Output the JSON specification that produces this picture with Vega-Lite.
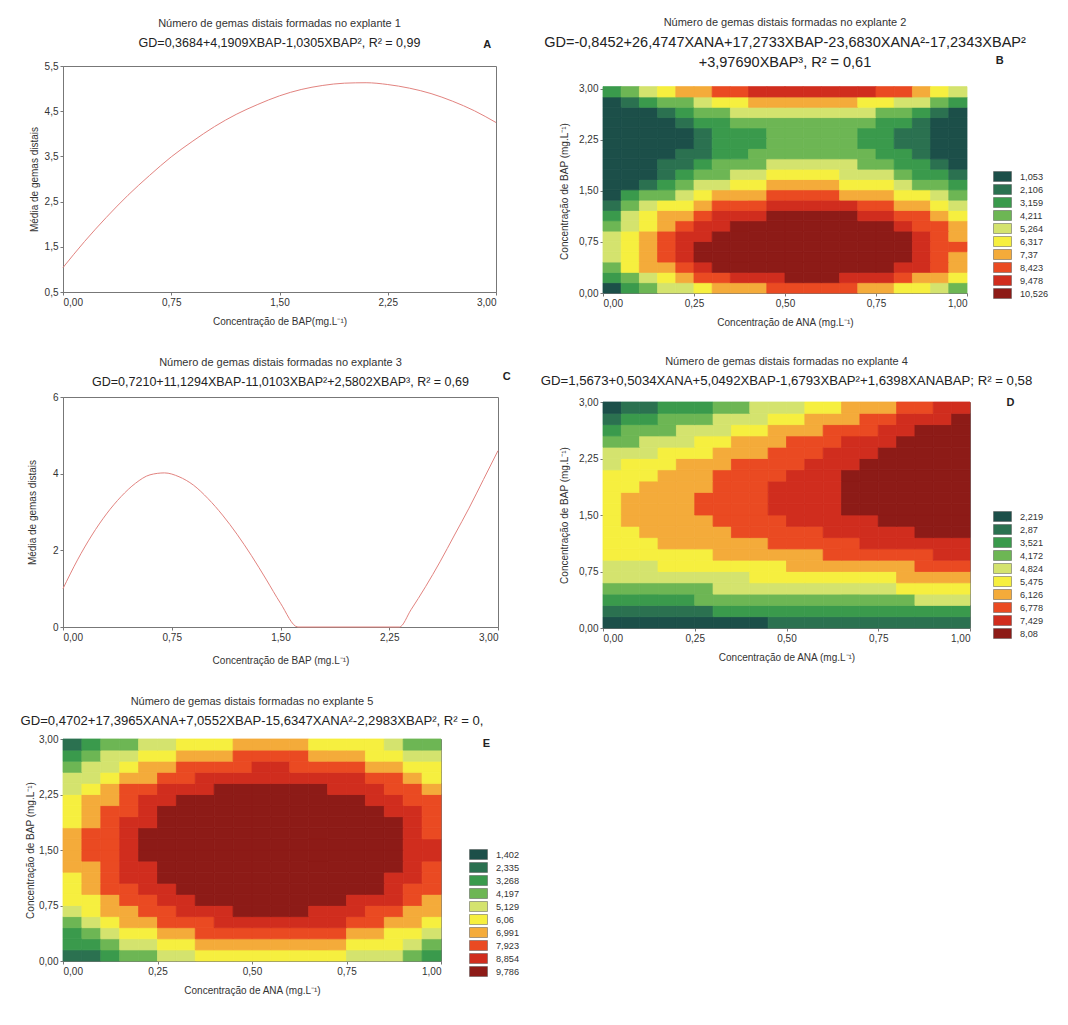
{
"$schema": "https://vega.github.io/schema/vega-lite/v6.json",
"background": "white",
"padding": {"left": 20, "top": 16, "right": 5, "bottom": 5},
"spacing": 20,
"resolve": {"scale": {"color": "independent"}, "legend": {"color": "independent"}},
"config": {
  "font": "Liberation Sans",
  "view": {"stroke": "#777", "strokeWidth": 1},
  "axis": {"labelFontSize": 10, "titleFontSize": 10, "titleFontWeight": "normal", "labelColor": "#333", "titleColor": "#333", "domainColor": "#777", "tickColor": "#777", "tickSize": 3, "grid": false, "labelPadding": 2, "titlePadding": 9},
  "title": {"fontSize": 11, "fontWeight": "normal", "color": "#333", "subtitleFontSize": 12.5, "subtitleColor": "#222", "subtitlePadding": 8, "offset": 12, "anchor": "middle", "frame": "group", "font": "Liberation Sans", "subtitleFont": "Liberation Sans"},
  "legend": {"symbolType": "M-1.8,-1H1.8V1H-1.8Z", "symbolSize": 100, "labelFontSize": 9.2, "labelColor": "#333", "rowPadding": 0, "padding": 0, "labelOffset": 12, "symbolStrokeColor": "#555", "symbolStrokeWidth": 0.5}
},
"datasets": {
"lineA": [{"x":0,"y":1.04},{"x":0.15,"y":1.62},{"x":0.3,"y":2.15},{"x":0.45,"y":2.64},{"x":0.6,"y":3.08},{"x":0.75,"y":3.49},{"x":0.9,"y":3.84},{"x":1.05,"y":4.16},{"x":1.2,"y":4.43},{"x":1.35,"y":4.65},{"x":1.5,"y":4.84},{"x":1.65,"y":4.98},{"x":1.8,"y":5.07},{"x":1.95,"y":5.12},{"x":2.1,"y":5.13},{"x":2.25,"y":5.09},{"x":2.4,"y":5.01},{"x":2.55,"y":4.89},{"x":2.7,"y":4.72},{"x":2.85,"y":4.51},{"x":3.0,"y":4.25}],
"lineC": [{"x":0,"y":1.0},{"x":0.1,"y":1.75},{"x":0.2,"y":2.4},{"x":0.3,"y":2.95},{"x":0.4,"y":3.4},{"x":0.5,"y":3.75},{"x":0.6,"y":3.97},{"x":0.7,"y":4.02},{"x":0.8,"y":3.92},{"x":0.9,"y":3.7},{"x":1.0,"y":3.35},{"x":1.1,"y":2.92},{"x":1.2,"y":2.42},{"x":1.3,"y":1.86},{"x":1.4,"y":1.25},{"x":1.5,"y":0.62},{"x":1.62,"y":0},{"x":2.32,"y":0},{"x":2.4,"y":0.45},{"x":2.5,"y":1.05},{"x":2.6,"y":1.7},{"x":2.7,"y":2.4},{"x":2.8,"y":3.1},{"x":2.9,"y":3.85},{"x":3.0,"y":4.6}],
"gridB": [
{"a":0.025,"b":0.075,"v":1},{"a":0.075,"b":0.075,"v":3},{"a":0.125,"b":0.075,"v":4},{"a":0.175,"b":0.075,"v":5},{"a":0.225,"b":0.075,"v":5},{"a":0.275,"b":0.075,"v":6},{"a":0.325,"b":0.075,"v":7},{"a":0.375,"b":0.075,"v":7},{"a":0.425,"b":0.075,"v":7},{"a":0.475,"b":0.075,"v":8},{"a":0.525,"b":0.075,"v":8},{"a":0.575,"b":0.075,"v":8},{"a":0.625,"b":0.075,"v":8},{"a":0.675,"b":0.075,"v":8},{"a":0.725,"b":0.075,"v":7},{"a":0.775,"b":0.075,"v":7},{"a":0.825,"b":0.075,"v":6},{"a":0.875,"b":0.075,"v":6},{"a":0.925,"b":0.075,"v":5},{"a":0.975,"b":0.075,"v":4},
{"a":0.025,"b":0.225,"v":3},{"a":0.075,"b":0.225,"v":4},{"a":0.125,"b":0.225,"v":5},{"a":0.175,"b":0.225,"v":6},{"a":0.225,"b":0.225,"v":7},{"a":0.275,"b":0.225,"v":8},{"a":0.325,"b":0.225,"v":8},{"a":0.375,"b":0.225,"v":9},{"a":0.425,"b":0.225,"v":9},{"a":0.475,"b":0.225,"v":9},{"a":0.525,"b":0.225,"v":10},{"a":0.575,"b":0.225,"v":10},{"a":0.625,"b":0.225,"v":10},{"a":0.675,"b":0.225,"v":9},{"a":0.725,"b":0.225,"v":9},{"a":0.775,"b":0.225,"v":9},{"a":0.825,"b":0.225,"v":8},{"a":0.875,"b":0.225,"v":7},{"a":0.925,"b":0.225,"v":7},{"a":0.975,"b":0.225,"v":6},
{"a":0.025,"b":0.375,"v":4},{"a":0.075,"b":0.375,"v":6},{"a":0.125,"b":0.375,"v":7},{"a":0.175,"b":0.375,"v":7},{"a":0.225,"b":0.375,"v":8},{"a":0.275,"b":0.375,"v":9},{"a":0.325,"b":0.375,"v":10},{"a":0.375,"b":0.375,"v":10},{"a":0.425,"b":0.375,"v":10},{"a":0.475,"b":0.375,"v":10},{"a":0.525,"b":0.375,"v":10},{"a":0.575,"b":0.375,"v":10},{"a":0.625,"b":0.375,"v":10},{"a":0.675,"b":0.375,"v":10},{"a":0.725,"b":0.375,"v":10},{"a":0.775,"b":0.375,"v":10},{"a":0.825,"b":0.375,"v":9},{"a":0.875,"b":0.375,"v":9},{"a":0.925,"b":0.375,"v":8},{"a":0.975,"b":0.375,"v":7},
{"a":0.025,"b":0.525,"v":5},{"a":0.075,"b":0.525,"v":6},{"a":0.125,"b":0.525,"v":7},{"a":0.175,"b":0.525,"v":8},{"a":0.225,"b":0.525,"v":9},{"a":0.275,"b":0.525,"v":10},{"a":0.325,"b":0.525,"v":10},{"a":0.375,"b":0.525,"v":10},{"a":0.425,"b":0.525,"v":10},{"a":0.475,"b":0.525,"v":10},{"a":0.525,"b":0.525,"v":10},{"a":0.575,"b":0.525,"v":10},{"a":0.625,"b":0.525,"v":10},{"a":0.675,"b":0.525,"v":10},{"a":0.725,"b":0.525,"v":10},{"a":0.775,"b":0.525,"v":10},{"a":0.825,"b":0.525,"v":10},{"a":0.875,"b":0.525,"v":9},{"a":0.925,"b":0.525,"v":8},{"a":0.975,"b":0.525,"v":7},
{"a":0.025,"b":0.675,"v":5},{"a":0.075,"b":0.675,"v":6},{"a":0.125,"b":0.675,"v":7},{"a":0.175,"b":0.675,"v":8},{"a":0.225,"b":0.675,"v":9},{"a":0.275,"b":0.675,"v":10},{"a":0.325,"b":0.675,"v":10},{"a":0.375,"b":0.675,"v":10},{"a":0.425,"b":0.675,"v":10},{"a":0.475,"b":0.675,"v":10},{"a":0.525,"b":0.675,"v":10},{"a":0.575,"b":0.675,"v":10},{"a":0.625,"b":0.675,"v":10},{"a":0.675,"b":0.675,"v":10},{"a":0.725,"b":0.675,"v":10},{"a":0.775,"b":0.675,"v":10},{"a":0.825,"b":0.675,"v":10},{"a":0.875,"b":0.675,"v":9},{"a":0.925,"b":0.675,"v":8},{"a":0.975,"b":0.675,"v":8},
{"a":0.025,"b":0.825,"v":5},{"a":0.075,"b":0.825,"v":6},{"a":0.125,"b":0.825,"v":7},{"a":0.175,"b":0.825,"v":8},{"a":0.225,"b":0.825,"v":9},{"a":0.275,"b":0.825,"v":9},{"a":0.325,"b":0.825,"v":10},{"a":0.375,"b":0.825,"v":10},{"a":0.425,"b":0.825,"v":10},{"a":0.475,"b":0.825,"v":10},{"a":0.525,"b":0.825,"v":10},{"a":0.575,"b":0.825,"v":10},{"a":0.625,"b":0.825,"v":10},{"a":0.675,"b":0.825,"v":10},{"a":0.725,"b":0.825,"v":10},{"a":0.775,"b":0.825,"v":10},{"a":0.825,"b":0.825,"v":10},{"a":0.875,"b":0.825,"v":9},{"a":0.925,"b":0.825,"v":8},{"a":0.975,"b":0.825,"v":7},
{"a":0.025,"b":0.975,"v":4},{"a":0.075,"b":0.975,"v":5},{"a":0.125,"b":0.975,"v":6},{"a":0.175,"b":0.975,"v":7},{"a":0.225,"b":0.975,"v":8},{"a":0.275,"b":0.975,"v":9},{"a":0.325,"b":0.975,"v":9},{"a":0.375,"b":0.975,"v":10},{"a":0.425,"b":0.975,"v":10},{"a":0.475,"b":0.975,"v":10},{"a":0.525,"b":0.975,"v":10},{"a":0.575,"b":0.975,"v":10},{"a":0.625,"b":0.975,"v":10},{"a":0.675,"b":0.975,"v":10},{"a":0.725,"b":0.975,"v":10},{"a":0.775,"b":0.975,"v":10},{"a":0.825,"b":0.975,"v":9},{"a":0.875,"b":0.975,"v":8},{"a":0.925,"b":0.975,"v":8},{"a":0.975,"b":0.975,"v":7},
{"a":0.025,"b":1.125,"v":3},{"a":0.075,"b":1.125,"v":5},{"a":0.125,"b":1.125,"v":6},{"a":0.175,"b":1.125,"v":7},{"a":0.225,"b":1.125,"v":7},{"a":0.275,"b":1.125,"v":8},{"a":0.325,"b":1.125,"v":9},{"a":0.375,"b":1.125,"v":9},{"a":0.425,"b":1.125,"v":9},{"a":0.475,"b":1.125,"v":10},{"a":0.525,"b":1.125,"v":10},{"a":0.575,"b":1.125,"v":10},{"a":0.625,"b":1.125,"v":10},{"a":0.675,"b":1.125,"v":10},{"a":0.725,"b":1.125,"v":9},{"a":0.775,"b":1.125,"v":9},{"a":0.825,"b":1.125,"v":8},{"a":0.875,"b":1.125,"v":8},{"a":0.925,"b":1.125,"v":7},{"a":0.975,"b":1.125,"v":6},
{"a":0.025,"b":1.275,"v":2},{"a":0.075,"b":1.275,"v":4},{"a":0.125,"b":1.275,"v":5},{"a":0.175,"b":1.275,"v":6},{"a":0.225,"b":1.275,"v":6},{"a":0.275,"b":1.275,"v":7},{"a":0.325,"b":1.275,"v":8},{"a":0.375,"b":1.275,"v":8},{"a":0.425,"b":1.275,"v":8},{"a":0.475,"b":1.275,"v":9},{"a":0.525,"b":1.275,"v":9},{"a":0.575,"b":1.275,"v":9},{"a":0.625,"b":1.275,"v":9},{"a":0.675,"b":1.275,"v":9},{"a":0.725,"b":1.275,"v":8},{"a":0.775,"b":1.275,"v":8},{"a":0.825,"b":1.275,"v":7},{"a":0.875,"b":1.275,"v":7},{"a":0.925,"b":1.275,"v":6},{"a":0.975,"b":1.275,"v":5},
{"a":0.025,"b":1.425,"v":1},{"a":0.075,"b":1.425,"v":3},{"a":0.125,"b":1.425,"v":4},{"a":0.175,"b":1.425,"v":4},{"a":0.225,"b":1.425,"v":5},{"a":0.275,"b":1.425,"v":6},{"a":0.325,"b":1.425,"v":7},{"a":0.375,"b":1.425,"v":7},{"a":0.425,"b":1.425,"v":7},{"a":0.475,"b":1.425,"v":8},{"a":0.525,"b":1.425,"v":8},{"a":0.575,"b":1.425,"v":8},{"a":0.625,"b":1.425,"v":8},{"a":0.675,"b":1.425,"v":7},{"a":0.725,"b":1.425,"v":7},{"a":0.775,"b":1.425,"v":7},{"a":0.825,"b":1.425,"v":6},{"a":0.875,"b":1.425,"v":6},{"a":0.925,"b":1.425,"v":5},{"a":0.975,"b":1.425,"v":4},
{"a":0.025,"b":1.575,"v":1},{"a":0.075,"b":1.575,"v":1},{"a":0.125,"b":1.575,"v":2},{"a":0.175,"b":1.575,"v":3},{"a":0.225,"b":1.575,"v":4},{"a":0.275,"b":1.575,"v":5},{"a":0.325,"b":1.575,"v":5},{"a":0.375,"b":1.575,"v":6},{"a":0.425,"b":1.575,"v":6},{"a":0.475,"b":1.575,"v":7},{"a":0.525,"b":1.575,"v":7},{"a":0.575,"b":1.575,"v":7},{"a":0.625,"b":1.575,"v":7},{"a":0.675,"b":1.575,"v":6},{"a":0.725,"b":1.575,"v":6},{"a":0.775,"b":1.575,"v":6},{"a":0.825,"b":1.575,"v":5},{"a":0.875,"b":1.575,"v":4},{"a":0.925,"b":1.575,"v":4},{"a":0.975,"b":1.575,"v":3},
{"a":0.025,"b":1.725,"v":1},{"a":0.075,"b":1.725,"v":1},{"a":0.125,"b":1.725,"v":1},{"a":0.175,"b":1.725,"v":2},{"a":0.225,"b":1.725,"v":3},{"a":0.275,"b":1.725,"v":4},{"a":0.325,"b":1.725,"v":4},{"a":0.375,"b":1.725,"v":5},{"a":0.425,"b":1.725,"v":5},{"a":0.475,"b":1.725,"v":6},{"a":0.525,"b":1.725,"v":6},{"a":0.575,"b":1.725,"v":6},{"a":0.625,"b":1.725,"v":6},{"a":0.675,"b":1.725,"v":5},{"a":0.725,"b":1.725,"v":5},{"a":0.775,"b":1.725,"v":5},{"a":0.825,"b":1.725,"v":4},{"a":0.875,"b":1.725,"v":3},{"a":0.925,"b":1.725,"v":3},{"a":0.975,"b":1.725,"v":2},
{"a":0.025,"b":1.875,"v":1},{"a":0.075,"b":1.875,"v":1},{"a":0.125,"b":1.875,"v":1},{"a":0.175,"b":1.875,"v":2},{"a":0.225,"b":1.875,"v":2},{"a":0.275,"b":1.875,"v":3},{"a":0.325,"b":1.875,"v":4},{"a":0.375,"b":1.875,"v":4},{"a":0.425,"b":1.875,"v":4},{"a":0.475,"b":1.875,"v":5},{"a":0.525,"b":1.875,"v":5},{"a":0.575,"b":1.875,"v":5},{"a":0.625,"b":1.875,"v":5},{"a":0.675,"b":1.875,"v":5},{"a":0.725,"b":1.875,"v":4},{"a":0.775,"b":1.875,"v":4},{"a":0.825,"b":1.875,"v":3},{"a":0.875,"b":1.875,"v":3},{"a":0.925,"b":1.875,"v":2},{"a":0.975,"b":1.875,"v":1},
{"a":0.025,"b":2.025,"v":1},{"a":0.075,"b":2.025,"v":1},{"a":0.125,"b":2.025,"v":1},{"a":0.175,"b":2.025,"v":1},{"a":0.225,"b":2.025,"v":2},{"a":0.275,"b":2.025,"v":2},{"a":0.325,"b":2.025,"v":3},{"a":0.375,"b":2.025,"v":3},{"a":0.425,"b":2.025,"v":4},{"a":0.475,"b":2.025,"v":4},{"a":0.525,"b":2.025,"v":4},{"a":0.575,"b":2.025,"v":4},{"a":0.625,"b":2.025,"v":4},{"a":0.675,"b":2.025,"v":4},{"a":0.725,"b":2.025,"v":4},{"a":0.775,"b":2.025,"v":3},{"a":0.825,"b":2.025,"v":3},{"a":0.875,"b":2.025,"v":2},{"a":0.925,"b":2.025,"v":1},{"a":0.975,"b":2.025,"v":1},
{"a":0.025,"b":2.175,"v":1},{"a":0.075,"b":2.175,"v":1},{"a":0.125,"b":2.175,"v":1},{"a":0.175,"b":2.175,"v":1},{"a":0.225,"b":2.175,"v":1},{"a":0.275,"b":2.175,"v":2},{"a":0.325,"b":2.175,"v":3},{"a":0.375,"b":2.175,"v":3},{"a":0.425,"b":2.175,"v":3},{"a":0.475,"b":2.175,"v":4},{"a":0.525,"b":2.175,"v":4},{"a":0.575,"b":2.175,"v":4},{"a":0.625,"b":2.175,"v":4},{"a":0.675,"b":2.175,"v":4},{"a":0.725,"b":2.175,"v":3},{"a":0.775,"b":2.175,"v":3},{"a":0.825,"b":2.175,"v":2},{"a":0.875,"b":2.175,"v":2},{"a":0.925,"b":2.175,"v":1},{"a":0.975,"b":2.175,"v":1},
{"a":0.025,"b":2.325,"v":1},{"a":0.075,"b":2.325,"v":1},{"a":0.125,"b":2.325,"v":1},{"a":0.175,"b":2.325,"v":1},{"a":0.225,"b":2.325,"v":1},{"a":0.275,"b":2.325,"v":2},{"a":0.325,"b":2.325,"v":3},{"a":0.375,"b":2.325,"v":3},{"a":0.425,"b":2.325,"v":3},{"a":0.475,"b":2.325,"v":4},{"a":0.525,"b":2.325,"v":4},{"a":0.575,"b":2.325,"v":4},{"a":0.625,"b":2.325,"v":4},{"a":0.675,"b":2.325,"v":4},{"a":0.725,"b":2.325,"v":3},{"a":0.775,"b":2.325,"v":3},{"a":0.825,"b":2.325,"v":2},{"a":0.875,"b":2.325,"v":2},{"a":0.925,"b":2.325,"v":1},{"a":0.975,"b":2.325,"v":1},
{"a":0.025,"b":2.475,"v":1},{"a":0.075,"b":2.475,"v":1},{"a":0.125,"b":2.475,"v":1},{"a":0.175,"b":2.475,"v":1},{"a":0.225,"b":2.475,"v":2},{"a":0.275,"b":2.475,"v":3},{"a":0.325,"b":2.475,"v":3},{"a":0.375,"b":2.475,"v":4},{"a":0.425,"b":2.475,"v":4},{"a":0.475,"b":2.475,"v":4},{"a":0.525,"b":2.475,"v":4},{"a":0.575,"b":2.475,"v":4},{"a":0.625,"b":2.475,"v":4},{"a":0.675,"b":2.475,"v":4},{"a":0.725,"b":2.475,"v":4},{"a":0.775,"b":2.475,"v":3},{"a":0.825,"b":2.475,"v":3},{"a":0.875,"b":2.475,"v":2},{"a":0.925,"b":2.475,"v":1},{"a":0.975,"b":2.475,"v":1},
{"a":0.025,"b":2.625,"v":1},{"a":0.075,"b":2.625,"v":1},{"a":0.125,"b":2.625,"v":1},{"a":0.175,"b":2.625,"v":2},{"a":0.225,"b":2.625,"v":3},{"a":0.275,"b":2.625,"v":4},{"a":0.325,"b":2.625,"v":4},{"a":0.375,"b":2.625,"v":5},{"a":0.425,"b":2.625,"v":5},{"a":0.475,"b":2.625,"v":5},{"a":0.525,"b":2.625,"v":5},{"a":0.575,"b":2.625,"v":5},{"a":0.625,"b":2.625,"v":5},{"a":0.675,"b":2.625,"v":5},{"a":0.725,"b":2.625,"v":5},{"a":0.775,"b":2.625,"v":4},{"a":0.825,"b":2.625,"v":4},{"a":0.875,"b":2.625,"v":3},{"a":0.925,"b":2.625,"v":2},{"a":0.975,"b":2.625,"v":1},
{"a":0.025,"b":2.775,"v":1},{"a":0.075,"b":2.775,"v":2},{"a":0.125,"b":2.775,"v":3},{"a":0.175,"b":2.775,"v":4},{"a":0.225,"b":2.775,"v":4},{"a":0.275,"b":2.775,"v":5},{"a":0.325,"b":2.775,"v":6},{"a":0.375,"b":2.775,"v":6},{"a":0.425,"b":2.775,"v":7},{"a":0.475,"b":2.775,"v":7},{"a":0.525,"b":2.775,"v":7},{"a":0.575,"b":2.775,"v":7},{"a":0.625,"b":2.775,"v":7},{"a":0.675,"b":2.775,"v":7},{"a":0.725,"b":2.775,"v":6},{"a":0.775,"b":2.775,"v":6},{"a":0.825,"b":2.775,"v":5},{"a":0.875,"b":2.775,"v":5},{"a":0.925,"b":2.775,"v":4},{"a":0.975,"b":2.775,"v":3},
{"a":0.025,"b":2.925,"v":3},{"a":0.075,"b":2.925,"v":4},{"a":0.125,"b":2.925,"v":5},{"a":0.175,"b":2.925,"v":6},{"a":0.225,"b":2.925,"v":7},{"a":0.275,"b":2.925,"v":7},{"a":0.325,"b":2.925,"v":8},{"a":0.375,"b":2.925,"v":8},{"a":0.425,"b":2.925,"v":9},{"a":0.475,"b":2.925,"v":9},{"a":0.525,"b":2.925,"v":9},{"a":0.575,"b":2.925,"v":9},{"a":0.625,"b":2.925,"v":9},{"a":0.675,"b":2.925,"v":9},{"a":0.725,"b":2.925,"v":9},{"a":0.775,"b":2.925,"v":8},{"a":0.825,"b":2.925,"v":8},{"a":0.875,"b":2.925,"v":7},{"a":0.925,"b":2.925,"v":6},{"a":0.975,"b":2.925,"v":5}
],
"gridD": [
{"a":0.025,"b":0.075,"v":1},{"a":0.075,"b":0.075,"v":1},{"a":0.125,"b":0.075,"v":1},{"a":0.175,"b":0.075,"v":1},{"a":0.225,"b":0.075,"v":1},{"a":0.275,"b":0.075,"v":1},{"a":0.325,"b":0.075,"v":1},{"a":0.375,"b":0.075,"v":1},{"a":0.425,"b":0.075,"v":1},{"a":0.475,"b":0.075,"v":2},{"a":0.525,"b":0.075,"v":2},{"a":0.575,"b":0.075,"v":2},{"a":0.625,"b":0.075,"v":2},{"a":0.675,"b":0.075,"v":2},{"a":0.725,"b":0.075,"v":2},{"a":0.775,"b":0.075,"v":2},{"a":0.825,"b":0.075,"v":2},{"a":0.875,"b":0.075,"v":2},{"a":0.925,"b":0.075,"v":2},{"a":0.975,"b":0.075,"v":2},
{"a":0.025,"b":0.225,"v":2},{"a":0.075,"b":0.225,"v":2},{"a":0.125,"b":0.225,"v":2},{"a":0.175,"b":0.225,"v":2},{"a":0.225,"b":0.225,"v":2},{"a":0.275,"b":0.225,"v":2},{"a":0.325,"b":0.225,"v":3},{"a":0.375,"b":0.225,"v":3},{"a":0.425,"b":0.225,"v":3},{"a":0.475,"b":0.225,"v":3},{"a":0.525,"b":0.225,"v":3},{"a":0.575,"b":0.225,"v":3},{"a":0.625,"b":0.225,"v":3},{"a":0.675,"b":0.225,"v":3},{"a":0.725,"b":0.225,"v":3},{"a":0.775,"b":0.225,"v":3},{"a":0.825,"b":0.225,"v":3},{"a":0.875,"b":0.225,"v":3},{"a":0.925,"b":0.225,"v":3},{"a":0.975,"b":0.225,"v":3},
{"a":0.025,"b":0.375,"v":3},{"a":0.075,"b":0.375,"v":3},{"a":0.125,"b":0.375,"v":3},{"a":0.175,"b":0.375,"v":3},{"a":0.225,"b":0.375,"v":3},{"a":0.275,"b":0.375,"v":4},{"a":0.325,"b":0.375,"v":4},{"a":0.375,"b":0.375,"v":4},{"a":0.425,"b":0.375,"v":4},{"a":0.475,"b":0.375,"v":4},{"a":0.525,"b":0.375,"v":4},{"a":0.575,"b":0.375,"v":4},{"a":0.625,"b":0.375,"v":4},{"a":0.675,"b":0.375,"v":4},{"a":0.725,"b":0.375,"v":4},{"a":0.775,"b":0.375,"v":4},{"a":0.825,"b":0.375,"v":4},{"a":0.875,"b":0.375,"v":5},{"a":0.925,"b":0.375,"v":5},{"a":0.975,"b":0.375,"v":5},
{"a":0.025,"b":0.525,"v":4},{"a":0.075,"b":0.525,"v":4},{"a":0.125,"b":0.525,"v":4},{"a":0.175,"b":0.525,"v":4},{"a":0.225,"b":0.525,"v":4},{"a":0.275,"b":0.525,"v":4},{"a":0.325,"b":0.525,"v":5},{"a":0.375,"b":0.525,"v":5},{"a":0.425,"b":0.525,"v":5},{"a":0.475,"b":0.525,"v":5},{"a":0.525,"b":0.525,"v":5},{"a":0.575,"b":0.525,"v":5},{"a":0.625,"b":0.525,"v":5},{"a":0.675,"b":0.525,"v":5},{"a":0.725,"b":0.525,"v":5},{"a":0.775,"b":0.525,"v":5},{"a":0.825,"b":0.525,"v":6},{"a":0.875,"b":0.525,"v":6},{"a":0.925,"b":0.525,"v":6},{"a":0.975,"b":0.525,"v":6},
{"a":0.025,"b":0.675,"v":5},{"a":0.075,"b":0.675,"v":5},{"a":0.125,"b":0.675,"v":5},{"a":0.175,"b":0.675,"v":5},{"a":0.225,"b":0.675,"v":5},{"a":0.275,"b":0.675,"v":5},{"a":0.325,"b":0.675,"v":5},{"a":0.375,"b":0.675,"v":5},{"a":0.425,"b":0.675,"v":6},{"a":0.475,"b":0.675,"v":6},{"a":0.525,"b":0.675,"v":6},{"a":0.575,"b":0.675,"v":6},{"a":0.625,"b":0.675,"v":6},{"a":0.675,"b":0.675,"v":6},{"a":0.725,"b":0.675,"v":6},{"a":0.775,"b":0.675,"v":6},{"a":0.825,"b":0.675,"v":7},{"a":0.875,"b":0.675,"v":7},{"a":0.925,"b":0.675,"v":7},{"a":0.975,"b":0.675,"v":7},
{"a":0.025,"b":0.825,"v":5},{"a":0.075,"b":0.825,"v":5},{"a":0.125,"b":0.825,"v":5},{"a":0.175,"b":0.825,"v":6},{"a":0.225,"b":0.825,"v":6},{"a":0.275,"b":0.825,"v":6},{"a":0.325,"b":0.825,"v":6},{"a":0.375,"b":0.825,"v":6},{"a":0.425,"b":0.825,"v":6},{"a":0.475,"b":0.825,"v":6},{"a":0.525,"b":0.825,"v":7},{"a":0.575,"b":0.825,"v":7},{"a":0.625,"b":0.825,"v":7},{"a":0.675,"b":0.825,"v":7},{"a":0.725,"b":0.825,"v":7},{"a":0.775,"b":0.825,"v":7},{"a":0.825,"b":0.825,"v":7},{"a":0.875,"b":0.825,"v":8},{"a":0.925,"b":0.825,"v":8},{"a":0.975,"b":0.825,"v":8},
{"a":0.025,"b":0.975,"v":6},{"a":0.075,"b":0.975,"v":6},{"a":0.125,"b":0.975,"v":6},{"a":0.175,"b":0.975,"v":6},{"a":0.225,"b":0.975,"v":6},{"a":0.275,"b":0.975,"v":6},{"a":0.325,"b":0.975,"v":7},{"a":0.375,"b":0.975,"v":7},{"a":0.425,"b":0.975,"v":7},{"a":0.475,"b":0.975,"v":7},{"a":0.525,"b":0.975,"v":7},{"a":0.575,"b":0.975,"v":7},{"a":0.625,"b":0.975,"v":8},{"a":0.675,"b":0.975,"v":8},{"a":0.725,"b":0.975,"v":8},{"a":0.775,"b":0.975,"v":8},{"a":0.825,"b":0.975,"v":8},{"a":0.875,"b":0.975,"v":8},{"a":0.925,"b":0.975,"v":9},{"a":0.975,"b":0.975,"v":9},
{"a":0.025,"b":1.125,"v":6},{"a":0.075,"b":1.125,"v":6},{"a":0.125,"b":1.125,"v":6},{"a":0.175,"b":1.125,"v":7},{"a":0.225,"b":1.125,"v":7},{"a":0.275,"b":1.125,"v":7},{"a":0.325,"b":1.125,"v":7},{"a":0.375,"b":1.125,"v":7},{"a":0.425,"b":1.125,"v":7},{"a":0.475,"b":1.125,"v":8},{"a":0.525,"b":1.125,"v":8},{"a":0.575,"b":1.125,"v":8},{"a":0.625,"b":1.125,"v":8},{"a":0.675,"b":1.125,"v":8},{"a":0.725,"b":1.125,"v":9},{"a":0.775,"b":1.125,"v":9},{"a":0.825,"b":1.125,"v":9},{"a":0.875,"b":1.125,"v":9},{"a":0.925,"b":1.125,"v":9},{"a":0.975,"b":1.125,"v":9},
{"a":0.025,"b":1.275,"v":6},{"a":0.075,"b":1.275,"v":6},{"a":0.125,"b":1.275,"v":7},{"a":0.175,"b":1.275,"v":7},{"a":0.225,"b":1.275,"v":7},{"a":0.275,"b":1.275,"v":7},{"a":0.325,"b":1.275,"v":7},{"a":0.375,"b":1.275,"v":8},{"a":0.425,"b":1.275,"v":8},{"a":0.475,"b":1.275,"v":8},{"a":0.525,"b":1.275,"v":8},{"a":0.575,"b":1.275,"v":8},{"a":0.625,"b":1.275,"v":9},{"a":0.675,"b":1.275,"v":9},{"a":0.725,"b":1.275,"v":9},{"a":0.775,"b":1.275,"v":9},{"a":0.825,"b":1.275,"v":9},{"a":0.875,"b":1.275,"v":10},{"a":0.925,"b":1.275,"v":10},{"a":0.975,"b":1.275,"v":10},
{"a":0.025,"b":1.425,"v":6},{"a":0.075,"b":1.425,"v":7},{"a":0.125,"b":1.425,"v":7},{"a":0.175,"b":1.425,"v":7},{"a":0.225,"b":1.425,"v":7},{"a":0.275,"b":1.425,"v":7},{"a":0.325,"b":1.425,"v":8},{"a":0.375,"b":1.425,"v":8},{"a":0.425,"b":1.425,"v":8},{"a":0.475,"b":1.425,"v":8},{"a":0.525,"b":1.425,"v":9},{"a":0.575,"b":1.425,"v":9},{"a":0.625,"b":1.425,"v":9},{"a":0.675,"b":1.425,"v":9},{"a":0.725,"b":1.425,"v":9},{"a":0.775,"b":1.425,"v":10},{"a":0.825,"b":1.425,"v":10},{"a":0.875,"b":1.425,"v":10},{"a":0.925,"b":1.425,"v":10},{"a":0.975,"b":1.425,"v":10},
{"a":0.025,"b":1.575,"v":6},{"a":0.075,"b":1.575,"v":7},{"a":0.125,"b":1.575,"v":7},{"a":0.175,"b":1.575,"v":7},{"a":0.225,"b":1.575,"v":7},{"a":0.275,"b":1.575,"v":8},{"a":0.325,"b":1.575,"v":8},{"a":0.375,"b":1.575,"v":8},{"a":0.425,"b":1.575,"v":8},{"a":0.475,"b":1.575,"v":9},{"a":0.525,"b":1.575,"v":9},{"a":0.575,"b":1.575,"v":9},{"a":0.625,"b":1.575,"v":9},{"a":0.675,"b":1.575,"v":10},{"a":0.725,"b":1.575,"v":10},{"a":0.775,"b":1.575,"v":10},{"a":0.825,"b":1.575,"v":10},{"a":0.875,"b":1.575,"v":10},{"a":0.925,"b":1.575,"v":10},{"a":0.975,"b":1.575,"v":10},
{"a":0.025,"b":1.725,"v":6},{"a":0.075,"b":1.725,"v":7},{"a":0.125,"b":1.725,"v":7},{"a":0.175,"b":1.725,"v":7},{"a":0.225,"b":1.725,"v":7},{"a":0.275,"b":1.725,"v":8},{"a":0.325,"b":1.725,"v":8},{"a":0.375,"b":1.725,"v":8},{"a":0.425,"b":1.725,"v":8},{"a":0.475,"b":1.725,"v":9},{"a":0.525,"b":1.725,"v":9},{"a":0.575,"b":1.725,"v":9},{"a":0.625,"b":1.725,"v":9},{"a":0.675,"b":1.725,"v":10},{"a":0.725,"b":1.725,"v":10},{"a":0.775,"b":1.725,"v":10},{"a":0.825,"b":1.725,"v":10},{"a":0.875,"b":1.725,"v":10},{"a":0.925,"b":1.725,"v":10},{"a":0.975,"b":1.725,"v":10},
{"a":0.025,"b":1.875,"v":6},{"a":0.075,"b":1.875,"v":6},{"a":0.125,"b":1.875,"v":7},{"a":0.175,"b":1.875,"v":7},{"a":0.225,"b":1.875,"v":7},{"a":0.275,"b":1.875,"v":7},{"a":0.325,"b":1.875,"v":8},{"a":0.375,"b":1.875,"v":8},{"a":0.425,"b":1.875,"v":8},{"a":0.475,"b":1.875,"v":9},{"a":0.525,"b":1.875,"v":9},{"a":0.575,"b":1.875,"v":9},{"a":0.625,"b":1.875,"v":9},{"a":0.675,"b":1.875,"v":10},{"a":0.725,"b":1.875,"v":10},{"a":0.775,"b":1.875,"v":10},{"a":0.825,"b":1.875,"v":10},{"a":0.875,"b":1.875,"v":10},{"a":0.925,"b":1.875,"v":10},{"a":0.975,"b":1.875,"v":10},
{"a":0.025,"b":2.025,"v":6},{"a":0.075,"b":2.025,"v":6},{"a":0.125,"b":2.025,"v":6},{"a":0.175,"b":2.025,"v":7},{"a":0.225,"b":2.025,"v":7},{"a":0.275,"b":2.025,"v":7},{"a":0.325,"b":2.025,"v":8},{"a":0.375,"b":2.025,"v":8},{"a":0.425,"b":2.025,"v":8},{"a":0.475,"b":2.025,"v":8},{"a":0.525,"b":2.025,"v":9},{"a":0.575,"b":2.025,"v":9},{"a":0.625,"b":2.025,"v":9},{"a":0.675,"b":2.025,"v":10},{"a":0.725,"b":2.025,"v":10},{"a":0.775,"b":2.025,"v":10},{"a":0.825,"b":2.025,"v":10},{"a":0.875,"b":2.025,"v":10},{"a":0.925,"b":2.025,"v":10},{"a":0.975,"b":2.025,"v":10},
{"a":0.025,"b":2.175,"v":5},{"a":0.075,"b":2.175,"v":6},{"a":0.125,"b":2.175,"v":6},{"a":0.175,"b":2.175,"v":6},{"a":0.225,"b":2.175,"v":7},{"a":0.275,"b":2.175,"v":7},{"a":0.325,"b":2.175,"v":7},{"a":0.375,"b":2.175,"v":8},{"a":0.425,"b":2.175,"v":8},{"a":0.475,"b":2.175,"v":8},{"a":0.525,"b":2.175,"v":8},{"a":0.575,"b":2.175,"v":9},{"a":0.625,"b":2.175,"v":9},{"a":0.675,"b":2.175,"v":9},{"a":0.725,"b":2.175,"v":10},{"a":0.775,"b":2.175,"v":10},{"a":0.825,"b":2.175,"v":10},{"a":0.875,"b":2.175,"v":10},{"a":0.925,"b":2.175,"v":10},{"a":0.975,"b":2.175,"v":10},
{"a":0.025,"b":2.325,"v":5},{"a":0.075,"b":2.325,"v":5},{"a":0.125,"b":2.325,"v":5},{"a":0.175,"b":2.325,"v":6},{"a":0.225,"b":2.325,"v":6},{"a":0.275,"b":2.325,"v":6},{"a":0.325,"b":2.325,"v":7},{"a":0.375,"b":2.325,"v":7},{"a":0.425,"b":2.325,"v":7},{"a":0.475,"b":2.325,"v":8},{"a":0.525,"b":2.325,"v":8},{"a":0.575,"b":2.325,"v":8},{"a":0.625,"b":2.325,"v":9},{"a":0.675,"b":2.325,"v":9},{"a":0.725,"b":2.325,"v":9},{"a":0.775,"b":2.325,"v":10},{"a":0.825,"b":2.325,"v":10},{"a":0.875,"b":2.325,"v":10},{"a":0.925,"b":2.325,"v":10},{"a":0.975,"b":2.325,"v":10},
{"a":0.025,"b":2.475,"v":4},{"a":0.075,"b":2.475,"v":4},{"a":0.125,"b":2.475,"v":5},{"a":0.175,"b":2.475,"v":5},{"a":0.225,"b":2.475,"v":5},{"a":0.275,"b":2.475,"v":6},{"a":0.325,"b":2.475,"v":6},{"a":0.375,"b":2.475,"v":7},{"a":0.425,"b":2.475,"v":7},{"a":0.475,"b":2.475,"v":7},{"a":0.525,"b":2.475,"v":8},{"a":0.575,"b":2.475,"v":8},{"a":0.625,"b":2.475,"v":8},{"a":0.675,"b":2.475,"v":9},{"a":0.725,"b":2.475,"v":9},{"a":0.775,"b":2.475,"v":9},{"a":0.825,"b":2.475,"v":10},{"a":0.875,"b":2.475,"v":10},{"a":0.925,"b":2.475,"v":10},{"a":0.975,"b":2.475,"v":10},
{"a":0.025,"b":2.625,"v":3},{"a":0.075,"b":2.625,"v":4},{"a":0.125,"b":2.625,"v":4},{"a":0.175,"b":2.625,"v":4},{"a":0.225,"b":2.625,"v":5},{"a":0.275,"b":2.625,"v":5},{"a":0.325,"b":2.625,"v":5},{"a":0.375,"b":2.625,"v":6},{"a":0.425,"b":2.625,"v":6},{"a":0.475,"b":2.625,"v":7},{"a":0.525,"b":2.625,"v":7},{"a":0.575,"b":2.625,"v":7},{"a":0.625,"b":2.625,"v":8},{"a":0.675,"b":2.625,"v":8},{"a":0.725,"b":2.625,"v":8},{"a":0.775,"b":2.625,"v":9},{"a":0.825,"b":2.625,"v":9},{"a":0.875,"b":2.625,"v":10},{"a":0.925,"b":2.625,"v":10},{"a":0.975,"b":2.625,"v":10},
{"a":0.025,"b":2.775,"v":2},{"a":0.075,"b":2.775,"v":3},{"a":0.125,"b":2.775,"v":3},{"a":0.175,"b":2.775,"v":4},{"a":0.225,"b":2.775,"v":4},{"a":0.275,"b":2.775,"v":4},{"a":0.325,"b":2.775,"v":5},{"a":0.375,"b":2.775,"v":5},{"a":0.425,"b":2.775,"v":5},{"a":0.475,"b":2.775,"v":6},{"a":0.525,"b":2.775,"v":6},{"a":0.575,"b":2.775,"v":7},{"a":0.625,"b":2.775,"v":7},{"a":0.675,"b":2.775,"v":7},{"a":0.725,"b":2.775,"v":8},{"a":0.775,"b":2.775,"v":8},{"a":0.825,"b":2.775,"v":9},{"a":0.875,"b":2.775,"v":9},{"a":0.925,"b":2.775,"v":9},{"a":0.975,"b":2.775,"v":10},
{"a":0.025,"b":2.925,"v":1},{"a":0.075,"b":2.925,"v":2},{"a":0.125,"b":2.925,"v":2},{"a":0.175,"b":2.925,"v":3},{"a":0.225,"b":2.925,"v":3},{"a":0.275,"b":2.925,"v":3},{"a":0.325,"b":2.925,"v":4},{"a":0.375,"b":2.925,"v":4},{"a":0.425,"b":2.925,"v":5},{"a":0.475,"b":2.925,"v":5},{"a":0.525,"b":2.925,"v":5},{"a":0.575,"b":2.925,"v":6},{"a":0.625,"b":2.925,"v":6},{"a":0.675,"b":2.925,"v":7},{"a":0.725,"b":2.925,"v":7},{"a":0.775,"b":2.925,"v":7},{"a":0.825,"b":2.925,"v":8},{"a":0.875,"b":2.925,"v":8},{"a":0.925,"b":2.925,"v":9},{"a":0.975,"b":2.925,"v":9}
],
"gridE": [
{"a":0.025,"b":0.075,"v":2},{"a":0.075,"b":0.075,"v":2},{"a":0.125,"b":0.075,"v":3},{"a":0.175,"b":0.075,"v":4},{"a":0.225,"b":0.075,"v":4},{"a":0.275,"b":0.075,"v":5},{"a":0.325,"b":0.075,"v":5},{"a":0.375,"b":0.075,"v":6},{"a":0.425,"b":0.075,"v":6},{"a":0.475,"b":0.075,"v":6},{"a":0.525,"b":0.075,"v":6},{"a":0.575,"b":0.075,"v":6},{"a":0.625,"b":0.075,"v":6},{"a":0.675,"b":0.075,"v":6},{"a":0.725,"b":0.075,"v":6},{"a":0.775,"b":0.075,"v":5},{"a":0.825,"b":0.075,"v":5},{"a":0.875,"b":0.075,"v":5},{"a":0.925,"b":0.075,"v":4},{"a":0.975,"b":0.075,"v":3},
{"a":0.025,"b":0.225,"v":3},{"a":0.075,"b":0.225,"v":3},{"a":0.125,"b":0.225,"v":4},{"a":0.175,"b":0.225,"v":5},{"a":0.225,"b":0.225,"v":5},{"a":0.275,"b":0.225,"v":6},{"a":0.325,"b":0.225,"v":6},{"a":0.375,"b":0.225,"v":7},{"a":0.425,"b":0.225,"v":7},{"a":0.475,"b":0.225,"v":7},{"a":0.525,"b":0.225,"v":7},{"a":0.575,"b":0.225,"v":7},{"a":0.625,"b":0.225,"v":7},{"a":0.675,"b":0.225,"v":7},{"a":0.725,"b":0.225,"v":7},{"a":0.775,"b":0.225,"v":6},{"a":0.825,"b":0.225,"v":6},{"a":0.875,"b":0.225,"v":6},{"a":0.925,"b":0.225,"v":5},{"a":0.975,"b":0.225,"v":4},
{"a":0.025,"b":0.375,"v":3},{"a":0.075,"b":0.375,"v":4},{"a":0.125,"b":0.375,"v":5},{"a":0.175,"b":0.375,"v":6},{"a":0.225,"b":0.375,"v":6},{"a":0.275,"b":0.375,"v":7},{"a":0.325,"b":0.375,"v":7},{"a":0.375,"b":0.375,"v":8},{"a":0.425,"b":0.375,"v":8},{"a":0.475,"b":0.375,"v":8},{"a":0.525,"b":0.375,"v":8},{"a":0.575,"b":0.375,"v":8},{"a":0.625,"b":0.375,"v":8},{"a":0.675,"b":0.375,"v":8},{"a":0.725,"b":0.375,"v":8},{"a":0.775,"b":0.375,"v":7},{"a":0.825,"b":0.375,"v":7},{"a":0.875,"b":0.375,"v":6},{"a":0.925,"b":0.375,"v":6},{"a":0.975,"b":0.375,"v":5},
{"a":0.025,"b":0.525,"v":4},{"a":0.075,"b":0.525,"v":5},{"a":0.125,"b":0.525,"v":6},{"a":0.175,"b":0.525,"v":7},{"a":0.225,"b":0.525,"v":7},{"a":0.275,"b":0.525,"v":8},{"a":0.325,"b":0.525,"v":8},{"a":0.375,"b":0.525,"v":8},{"a":0.425,"b":0.525,"v":9},{"a":0.475,"b":0.525,"v":9},{"a":0.525,"b":0.525,"v":9},{"a":0.575,"b":0.525,"v":9},{"a":0.625,"b":0.525,"v":9},{"a":0.675,"b":0.525,"v":9},{"a":0.725,"b":0.525,"v":9},{"a":0.775,"b":0.525,"v":8},{"a":0.825,"b":0.525,"v":8},{"a":0.875,"b":0.525,"v":7},{"a":0.925,"b":0.525,"v":7},{"a":0.975,"b":0.525,"v":6},
{"a":0.025,"b":0.675,"v":5},{"a":0.075,"b":0.675,"v":6},{"a":0.125,"b":0.675,"v":7},{"a":0.175,"b":0.675,"v":7},{"a":0.225,"b":0.675,"v":8},{"a":0.275,"b":0.675,"v":8},{"a":0.325,"b":0.675,"v":9},{"a":0.375,"b":0.675,"v":9},{"a":0.425,"b":0.675,"v":9},{"a":0.475,"b":0.675,"v":10},{"a":0.525,"b":0.675,"v":10},{"a":0.575,"b":0.675,"v":10},{"a":0.625,"b":0.675,"v":10},{"a":0.675,"b":0.675,"v":9},{"a":0.725,"b":0.675,"v":9},{"a":0.775,"b":0.675,"v":9},{"a":0.825,"b":0.675,"v":8},{"a":0.875,"b":0.675,"v":8},{"a":0.925,"b":0.675,"v":7},{"a":0.975,"b":0.675,"v":7},
{"a":0.025,"b":0.825,"v":6},{"a":0.075,"b":0.825,"v":6},{"a":0.125,"b":0.825,"v":7},{"a":0.175,"b":0.825,"v":8},{"a":0.225,"b":0.825,"v":8},{"a":0.275,"b":0.825,"v":9},{"a":0.325,"b":0.825,"v":9},{"a":0.375,"b":0.825,"v":10},{"a":0.425,"b":0.825,"v":10},{"a":0.475,"b":0.825,"v":10},{"a":0.525,"b":0.825,"v":10},{"a":0.575,"b":0.825,"v":10},{"a":0.625,"b":0.825,"v":10},{"a":0.675,"b":0.825,"v":10},{"a":0.725,"b":0.825,"v":10},{"a":0.775,"b":0.825,"v":9},{"a":0.825,"b":0.825,"v":9},{"a":0.875,"b":0.825,"v":9},{"a":0.925,"b":0.825,"v":8},{"a":0.975,"b":0.825,"v":7},
{"a":0.025,"b":0.975,"v":6},{"a":0.075,"b":0.975,"v":7},{"a":0.125,"b":0.975,"v":8},{"a":0.175,"b":0.975,"v":8},{"a":0.225,"b":0.975,"v":9},{"a":0.275,"b":0.975,"v":9},{"a":0.325,"b":0.975,"v":10},{"a":0.375,"b":0.975,"v":10},{"a":0.425,"b":0.975,"v":10},{"a":0.475,"b":0.975,"v":10},{"a":0.525,"b":0.975,"v":10},{"a":0.575,"b":0.975,"v":10},{"a":0.625,"b":0.975,"v":10},{"a":0.675,"b":0.975,"v":10},{"a":0.725,"b":0.975,"v":10},{"a":0.775,"b":0.975,"v":10},{"a":0.825,"b":0.975,"v":10},{"a":0.875,"b":0.975,"v":9},{"a":0.925,"b":0.975,"v":8},{"a":0.975,"b":0.975,"v":8},
{"a":0.025,"b":1.125,"v":6},{"a":0.075,"b":1.125,"v":7},{"a":0.125,"b":1.125,"v":8},{"a":0.175,"b":1.125,"v":9},{"a":0.225,"b":1.125,"v":9},{"a":0.275,"b":1.125,"v":10},{"a":0.325,"b":1.125,"v":10},{"a":0.375,"b":1.125,"v":10},{"a":0.425,"b":1.125,"v":10},{"a":0.475,"b":1.125,"v":10},{"a":0.525,"b":1.125,"v":10},{"a":0.575,"b":1.125,"v":10},{"a":0.625,"b":1.125,"v":10},{"a":0.675,"b":1.125,"v":10},{"a":0.725,"b":1.125,"v":10},{"a":0.775,"b":1.125,"v":10},{"a":0.825,"b":1.125,"v":10},{"a":0.875,"b":1.125,"v":9},{"a":0.925,"b":1.125,"v":9},{"a":0.975,"b":1.125,"v":8},
{"a":0.025,"b":1.275,"v":7},{"a":0.075,"b":1.275,"v":7},{"a":0.125,"b":1.275,"v":8},{"a":0.175,"b":1.275,"v":9},{"a":0.225,"b":1.275,"v":9},{"a":0.275,"b":1.275,"v":10},{"a":0.325,"b":1.275,"v":10},{"a":0.375,"b":1.275,"v":10},{"a":0.425,"b":1.275,"v":10},{"a":0.475,"b":1.275,"v":10},{"a":0.525,"b":1.275,"v":10},{"a":0.575,"b":1.275,"v":10},{"a":0.625,"b":1.275,"v":10},{"a":0.675,"b":1.275,"v":10},{"a":0.725,"b":1.275,"v":10},{"a":0.775,"b":1.275,"v":10},{"a":0.825,"b":1.275,"v":10},{"a":0.875,"b":1.275,"v":10},{"a":0.925,"b":1.275,"v":9},{"a":0.975,"b":1.275,"v":8},
{"a":0.025,"b":1.425,"v":7},{"a":0.075,"b":1.425,"v":8},{"a":0.125,"b":1.425,"v":8},{"a":0.175,"b":1.425,"v":9},{"a":0.225,"b":1.425,"v":10},{"a":0.275,"b":1.425,"v":10},{"a":0.325,"b":1.425,"v":10},{"a":0.375,"b":1.425,"v":10},{"a":0.425,"b":1.425,"v":10},{"a":0.475,"b":1.425,"v":10},{"a":0.525,"b":1.425,"v":10},{"a":0.575,"b":1.425,"v":10},{"a":0.625,"b":1.425,"v":10},{"a":0.675,"b":1.425,"v":10},{"a":0.725,"b":1.425,"v":10},{"a":0.775,"b":1.425,"v":10},{"a":0.825,"b":1.425,"v":10},{"a":0.875,"b":1.425,"v":10},{"a":0.925,"b":1.425,"v":9},{"a":0.975,"b":1.425,"v":9},
{"a":0.025,"b":1.575,"v":7},{"a":0.075,"b":1.575,"v":8},{"a":0.125,"b":1.575,"v":8},{"a":0.175,"b":1.575,"v":9},{"a":0.225,"b":1.575,"v":10},{"a":0.275,"b":1.575,"v":10},{"a":0.325,"b":1.575,"v":10},{"a":0.375,"b":1.575,"v":10},{"a":0.425,"b":1.575,"v":10},{"a":0.475,"b":1.575,"v":10},{"a":0.525,"b":1.575,"v":10},{"a":0.575,"b":1.575,"v":10},{"a":0.625,"b":1.575,"v":10},{"a":0.675,"b":1.575,"v":10},{"a":0.725,"b":1.575,"v":10},{"a":0.775,"b":1.575,"v":10},{"a":0.825,"b":1.575,"v":10},{"a":0.875,"b":1.575,"v":10},{"a":0.925,"b":1.575,"v":9},{"a":0.975,"b":1.575,"v":9},
{"a":0.025,"b":1.725,"v":7},{"a":0.075,"b":1.725,"v":8},{"a":0.125,"b":1.725,"v":8},{"a":0.175,"b":1.725,"v":9},{"a":0.225,"b":1.725,"v":10},{"a":0.275,"b":1.725,"v":10},{"a":0.325,"b":1.725,"v":10},{"a":0.375,"b":1.725,"v":10},{"a":0.425,"b":1.725,"v":10},{"a":0.475,"b":1.725,"v":10},{"a":0.525,"b":1.725,"v":10},{"a":0.575,"b":1.725,"v":10},{"a":0.625,"b":1.725,"v":10},{"a":0.675,"b":1.725,"v":10},{"a":0.725,"b":1.725,"v":10},{"a":0.775,"b":1.725,"v":10},{"a":0.825,"b":1.725,"v":10},{"a":0.875,"b":1.725,"v":10},{"a":0.925,"b":1.725,"v":9},{"a":0.975,"b":1.725,"v":8},
{"a":0.025,"b":1.875,"v":6},{"a":0.075,"b":1.875,"v":7},{"a":0.125,"b":1.875,"v":8},{"a":0.175,"b":1.875,"v":9},{"a":0.225,"b":1.875,"v":9},{"a":0.275,"b":1.875,"v":10},{"a":0.325,"b":1.875,"v":10},{"a":0.375,"b":1.875,"v":10},{"a":0.425,"b":1.875,"v":10},{"a":0.475,"b":1.875,"v":10},{"a":0.525,"b":1.875,"v":10},{"a":0.575,"b":1.875,"v":10},{"a":0.625,"b":1.875,"v":10},{"a":0.675,"b":1.875,"v":10},{"a":0.725,"b":1.875,"v":10},{"a":0.775,"b":1.875,"v":10},{"a":0.825,"b":1.875,"v":10},{"a":0.875,"b":1.875,"v":10},{"a":0.925,"b":1.875,"v":9},{"a":0.975,"b":1.875,"v":8},
{"a":0.025,"b":2.025,"v":6},{"a":0.075,"b":2.025,"v":7},{"a":0.125,"b":2.025,"v":8},{"a":0.175,"b":2.025,"v":8},{"a":0.225,"b":2.025,"v":9},{"a":0.275,"b":2.025,"v":10},{"a":0.325,"b":2.025,"v":10},{"a":0.375,"b":2.025,"v":10},{"a":0.425,"b":2.025,"v":10},{"a":0.475,"b":2.025,"v":10},{"a":0.525,"b":2.025,"v":10},{"a":0.575,"b":2.025,"v":10},{"a":0.625,"b":2.025,"v":10},{"a":0.675,"b":2.025,"v":10},{"a":0.725,"b":2.025,"v":10},{"a":0.775,"b":2.025,"v":10},{"a":0.825,"b":2.025,"v":10},{"a":0.875,"b":2.025,"v":9},{"a":0.925,"b":2.025,"v":9},{"a":0.975,"b":2.025,"v":8},
{"a":0.025,"b":2.175,"v":6},{"a":0.075,"b":2.175,"v":7},{"a":0.125,"b":2.175,"v":7},{"a":0.175,"b":2.175,"v":8},{"a":0.225,"b":2.175,"v":9},{"a":0.275,"b":2.175,"v":9},{"a":0.325,"b":2.175,"v":10},{"a":0.375,"b":2.175,"v":10},{"a":0.425,"b":2.175,"v":10},{"a":0.475,"b":2.175,"v":10},{"a":0.525,"b":2.175,"v":10},{"a":0.575,"b":2.175,"v":10},{"a":0.625,"b":2.175,"v":10},{"a":0.675,"b":2.175,"v":10},{"a":0.725,"b":2.175,"v":10},{"a":0.775,"b":2.175,"v":10},{"a":0.825,"b":2.175,"v":9},{"a":0.875,"b":2.175,"v":9},{"a":0.925,"b":2.175,"v":8},{"a":0.975,"b":2.175,"v":8},
{"a":0.025,"b":2.325,"v":5},{"a":0.075,"b":2.325,"v":6},{"a":0.125,"b":2.325,"v":7},{"a":0.175,"b":2.325,"v":8},{"a":0.225,"b":2.325,"v":8},{"a":0.275,"b":2.325,"v":9},{"a":0.325,"b":2.325,"v":9},{"a":0.375,"b":2.325,"v":9},{"a":0.425,"b":2.325,"v":10},{"a":0.475,"b":2.325,"v":10},{"a":0.525,"b":2.325,"v":10},{"a":0.575,"b":2.325,"v":10},{"a":0.625,"b":2.325,"v":10},{"a":0.675,"b":2.325,"v":10},{"a":0.725,"b":2.325,"v":9},{"a":0.775,"b":2.325,"v":9},{"a":0.825,"b":2.325,"v":9},{"a":0.875,"b":2.325,"v":8},{"a":0.925,"b":2.325,"v":8},{"a":0.975,"b":2.325,"v":7},
{"a":0.025,"b":2.475,"v":5},{"a":0.075,"b":2.475,"v":5},{"a":0.125,"b":2.475,"v":6},{"a":0.175,"b":2.475,"v":7},{"a":0.225,"b":2.475,"v":7},{"a":0.275,"b":2.475,"v":8},{"a":0.325,"b":2.475,"v":8},{"a":0.375,"b":2.475,"v":9},{"a":0.425,"b":2.475,"v":9},{"a":0.475,"b":2.475,"v":9},{"a":0.525,"b":2.475,"v":9},{"a":0.575,"b":2.475,"v":9},{"a":0.625,"b":2.475,"v":9},{"a":0.675,"b":2.475,"v":9},{"a":0.725,"b":2.475,"v":9},{"a":0.775,"b":2.475,"v":9},{"a":0.825,"b":2.475,"v":8},{"a":0.875,"b":2.475,"v":8},{"a":0.925,"b":2.475,"v":7},{"a":0.975,"b":2.475,"v":6},
{"a":0.025,"b":2.625,"v":4},{"a":0.075,"b":2.625,"v":5},{"a":0.125,"b":2.625,"v":5},{"a":0.175,"b":2.625,"v":6},{"a":0.225,"b":2.625,"v":7},{"a":0.275,"b":2.625,"v":7},{"a":0.325,"b":2.625,"v":8},{"a":0.375,"b":2.625,"v":8},{"a":0.425,"b":2.625,"v":8},{"a":0.475,"b":2.625,"v":8},{"a":0.525,"b":2.625,"v":9},{"a":0.575,"b":2.625,"v":9},{"a":0.625,"b":2.625,"v":8},{"a":0.675,"b":2.625,"v":8},{"a":0.725,"b":2.625,"v":8},{"a":0.775,"b":2.625,"v":8},{"a":0.825,"b":2.625,"v":7},{"a":0.875,"b":2.625,"v":7},{"a":0.925,"b":2.625,"v":6},{"a":0.975,"b":2.625,"v":6},
{"a":0.025,"b":2.775,"v":3},{"a":0.075,"b":2.775,"v":4},{"a":0.125,"b":2.775,"v":5},{"a":0.175,"b":2.775,"v":5},{"a":0.225,"b":2.775,"v":6},{"a":0.275,"b":2.775,"v":6},{"a":0.325,"b":2.775,"v":7},{"a":0.375,"b":2.775,"v":7},{"a":0.425,"b":2.775,"v":7},{"a":0.475,"b":2.775,"v":8},{"a":0.525,"b":2.775,"v":8},{"a":0.575,"b":2.775,"v":8},{"a":0.625,"b":2.775,"v":8},{"a":0.675,"b":2.775,"v":7},{"a":0.725,"b":2.775,"v":7},{"a":0.775,"b":2.775,"v":7},{"a":0.825,"b":2.775,"v":6},{"a":0.875,"b":2.775,"v":6},{"a":0.925,"b":2.775,"v":5},{"a":0.975,"b":2.775,"v":5},
{"a":0.025,"b":2.925,"v":2},{"a":0.075,"b":2.925,"v":3},{"a":0.125,"b":2.925,"v":4},{"a":0.175,"b":2.925,"v":4},{"a":0.225,"b":2.925,"v":5},{"a":0.275,"b":2.925,"v":5},{"a":0.325,"b":2.925,"v":6},{"a":0.375,"b":2.925,"v":6},{"a":0.425,"b":2.925,"v":6},{"a":0.475,"b":2.925,"v":7},{"a":0.525,"b":2.925,"v":7},{"a":0.575,"b":2.925,"v":7},{"a":0.625,"b":2.925,"v":7},{"a":0.675,"b":2.925,"v":6},{"a":0.725,"b":2.925,"v":6},{"a":0.775,"b":2.925,"v":6},{"a":0.825,"b":2.925,"v":6},{"a":0.875,"b":2.925,"v":5},{"a":0.925,"b":2.925,"v":4},{"a":0.975,"b":2.925,"v":4}
]
},
"hconcat": [
{"vconcat": [
  {"width": 433, "height": 226,
   "title": {"text": "Número de gemas distais formadas no explante 1", "subtitle": "GD=0,3684+4,1909XBAP-1,0305XBAP², R² = 0,99", "offset": -10},
   "layer": [
     {"data": {"name": "lineA"}, "mark": {"type": "line", "color": "#e2837f", "strokeWidth": 1, "interpolate": "monotone"},
      "encoding": {
        "x": {"field": "x", "type": "quantitative", "scale": {"domain": [0, 3], "nice": false}, "axis": {"values": [0, 0.75, 1.5, 2.25, 3], "labelExpr": "replace(format(datum.value, '.2f'), '.', ',')", "title": "Concentração de BAP(mg.L⁻¹)"}},
        "y": {"field": "y", "type": "quantitative", "scale": {"domain": [0.5, 5.5], "nice": false}, "axis": {"values": [0.5, 1.5, 2.5, 3.5, 4.5, 5.5], "labelExpr": "replace(format(datum.value, '.1f'), '.', ',')", "title": "Média de gemas distais", "titlePadding": 5}}}},
     {"data": {"values": [{}]}, "mark": {"type": "text", "fontWeight": "bold", "fontSize": 11, "color": "#222"},
      "encoding": {"x": {"datum": 2.94, "type": "quantitative"}, "y": {"datum": 5.96, "type": "quantitative"}, "text": {"value": "A"}}}
   ]},
  {"width": 435, "height": 230,
   "title": {"text": "Número de gemas distais formadas no explante 3", "subtitle": "GD=0,7210+11,1294XBAP-11,0103XBAP²+2,5802XBAP³, R² = 0,69", "offset": -17},
   "layer": [
     {"data": {"name": "lineC"}, "mark": {"type": "line", "color": "#e2837f", "strokeWidth": 1, "interpolate": "monotone"},
      "encoding": {
        "x": {"field": "x", "type": "quantitative", "scale": {"domain": [0, 3], "nice": false}, "axis": {"values": [0, 0.75, 1.5, 2.25, 3], "labelExpr": "replace(format(datum.value, '.2f'), '.', ',')", "title": "Concentração de BAP (mg.L⁻¹)", "titlePadding": 13}},
        "y": {"field": "y", "type": "quantitative", "scale": {"domain": [0, 6], "nice": false}, "axis": {"values": [0, 1, 2, 3, 4, 5, 6], "title": "Média de gemas distais", "titlePadding": 15}}}},
     {"data": {"values": [{}]}, "mark": {"type": "text", "fontWeight": "bold", "fontSize": 11, "color": "#222"},
      "encoding": {"x": {"datum": 3.06, "type": "quantitative"}, "y": {"datum": 6.52, "type": "quantitative"}, "text": {"value": "C"}}}
   ]},
  {"width": 378, "height": 222,
   "title": {"text": "Número de gemas distais formadas no explante 5", "subtitle": "GD=0,4702+17,3965XANA+7,0552XBAP-15,6347XANA²-2,2983XBAP², R² = 0,", "subtitleFontSize": 13.1, "offset": 6},
   "layer": [
     {"data": {"name": "gridE"}, "mark": {"type": "rect", "strokeWidth": 0.8},
      "encoding": {
        "x": {"field": "a", "type": "ordinal", "axis": null, "scale": {"paddingInner": 0, "paddingOuter": 0}},
        "y": {"field": "b", "type": "ordinal", "axis": null, "sort": "descending", "scale": {"paddingInner": 0, "paddingOuter": 0}},
        "stroke": {"field": "v", "type": "ordinal", "scale": {"domain": [1,2,3,4,5,6,7,8,9,10], "range": ["#1c4f49","#2b7150","#3a9a4c","#6db654","#d4e36e","#f6ef3f","#f4ab3a","#ea4a22","#d02d1e","#8d1b17"]}, "legend": null},
        "color": {"field": "v", "type": "ordinal", "scale": {"domain": [1,2,3,4,5,6,7,8,9,10], "range": ["#1c4f49","#2b7150","#3a9a4c","#6db654","#d4e36e","#f6ef3f","#f4ab3a","#ea4a22","#d02d1e","#8d1b17"]},
          "legend": {"title": null, "orient": "none", "legendX": 410, "legendY": 110, "labelExpr": "['1,402','2,335','3,268','4,197','5,129','6,06','6,991','7,923','8,854','9,786'][datum.value - 1]"}}}},
     {"data": {"values": [{}]}, "mark": {"type": "text", "fontWeight": "bold", "fontSize": 11, "color": "#222"},
      "encoding": {
        "x": {"datum": 1.12, "type": "quantitative", "scale": {"domain": [0, 1], "nice": false}, "axis": {"values": [0, 0.25, 0.5, 0.75, 1], "labelExpr": "replace(format(datum.value, '.2f'), '.', ',')", "title": "Concentração de ANA (mg.L⁻¹)"}},
        "y": {"datum": 2.93, "type": "quantitative", "scale": {"domain": [0, 3], "nice": false}, "axis": {"values": [0, 0.75, 1.5, 2.25, 3], "labelExpr": "replace(format(datum.value, '.2f'), '.', ',')", "title": "Concentração de BAP (mg.L⁻¹)", "titlePadding": 3}},
        "text": {"value": "E"}}}
   ],
   "resolve": {"scale": {"x": "independent", "y": "independent"}}}
 ], "spacing": 29, "resolve": {"scale": {"color": "independent"}, "legend": {"color": "independent"}}},
{"vconcat": [
  {"width": 364, "height": 227,
   "view": {"stroke": null},
   "title": {"text": "Número de gemas distais formadas no explante 2", "subtitle": ["GD=-0,8452+26,4747XANA+17,2733XBAP-23,6830XANA²-17,2343XBAP²", "+3,97690XBAP³, R² = 0,61"], "subtitleFontSize": 14.5, "subtitleLineHeight": 20, "offset": -14},
   "layer": [
     {"data": {"name": "gridB"}, "mark": {"type": "rect", "strokeWidth": 0.8},
      "encoding": {
        "x": {"field": "a", "type": "ordinal", "axis": null, "scale": {"paddingInner": 0, "paddingOuter": 0}},
        "y": {"field": "b", "type": "ordinal", "axis": null, "sort": "descending", "scale": {"paddingInner": 0, "paddingOuter": 1.1275, "align": 1}},
        "stroke": {"field": "v", "type": "ordinal", "scale": {"domain": [1,2,3,4,5,6,7,8,9,10], "range": ["#1c4f49","#2b7150","#3a9a4c","#6db654","#d4e36e","#f6ef3f","#f4ab3a","#ea4a22","#d02d1e","#8d1b17"]}, "legend": null},
        "color": {"field": "v", "type": "ordinal", "scale": {"domain": [1,2,3,4,5,6,7,8,9,10], "range": ["#1c4f49","#2b7150","#3a9a4c","#6db654","#d4e36e","#f6ef3f","#f4ab3a","#ea4a22","#d02d1e","#8d1b17"]},
          "legend": {"title": null, "orient": "none", "legendX": 394, "legendY": 105, "labelExpr": "['1,053','2,106','3,159','4,211','5,264','6,317','7,37','8,423','9,478','10,526'][datum.value - 1]"}}}},
     {"data": {"values": [{}]}, "mark": {"type": "text", "fontWeight": "bold", "fontSize": 11, "color": "#222"},
      "encoding": {
        "x": {"datum": 1.09, "type": "quantitative", "scale": {"domain": [0, 1], "nice": false}, "axis": {"values": [0, 0.25, 0.5, 0.75, 1], "labelExpr": "replace(format(datum.value, '.2f'), '.', ',')", "title": "Concentração de ANA (mg.L⁻¹)"}},
        "y": {"datum": 3.41, "type": "quantitative", "scale": {"domain": [0, 3.3382], "nice": false}, "axis": {"values": [0, 0.75, 1.5, 2.25, 3], "domain": false, "labelExpr": "replace(format(datum.value, '.2f'), '.', ',')", "title": "Concentração de BAP (mg.L⁻¹)", "titleY": 125}},
        "text": {"value": "B"}}}
   ],
   "resolve": {"scale": {"x": "independent", "y": "independent"}}},
  {"width": 367, "height": 226,
   "title": {"text": "Número de gemas distais formadas no explante 4", "subtitle": "GD=1,5673+0,5034XANA+5,0492XBAP-1,6793XBAP²+1,6398XANABAP; R² = 0,58", "subtitleFontSize": 13.2, "offset": 10},
   "layer": [
     {"data": {"name": "gridD"}, "mark": {"type": "rect", "strokeWidth": 0.8},
      "encoding": {
        "x": {"field": "a", "type": "ordinal", "axis": null, "scale": {"paddingInner": 0, "paddingOuter": 0}},
        "y": {"field": "b", "type": "ordinal", "axis": null, "sort": "descending", "scale": {"paddingInner": 0, "paddingOuter": 0}},
        "stroke": {"field": "v", "type": "ordinal", "scale": {"domain": [1,2,3,4,5,6,7,8,9,10], "range": ["#1c4f49","#2b7150","#3a9a4c","#6db654","#d4e36e","#f6ef3f","#f4ab3a","#ea4a22","#d02d1e","#8d1b17"]}, "legend": null},
        "color": {"field": "v", "type": "ordinal", "scale": {"domain": [1,2,3,4,5,6,7,8,9,10], "range": ["#1c4f49","#2b7150","#3a9a4c","#6db654","#d4e36e","#f6ef3f","#f4ab3a","#ea4a22","#d02d1e","#8d1b17"]},
          "legend": {"title": null, "orient": "none", "legendX": 394, "legendY": 109, "labelExpr": "['2,219','2,87','3,521','4,172','4,824','5,475','6,126','6,778','7,429','8,08'][datum.value - 1]"}}}},
     {"data": {"values": [{}]}, "mark": {"type": "text", "fontWeight": "bold", "fontSize": 11, "color": "#222"},
      "encoding": {
        "x": {"datum": 1.11, "type": "quantitative", "scale": {"domain": [0, 1], "nice": false}, "axis": {"values": [0, 0.25, 0.5, 0.75, 1], "labelExpr": "replace(format(datum.value, '.2f'), '.', ',')", "title": "Concentração de ANA (mg.L⁻¹)"}},
        "y": {"datum": 2.99, "type": "quantitative", "scale": {"domain": [0, 3], "nice": false}, "axis": {"values": [0, 0.75, 1.5, 2.25, 3], "labelExpr": "replace(format(datum.value, '.2f'), '.', ',')", "title": "Concentração de BAP (mg.L⁻¹)"}},
        "text": {"value": "D"}}}
   ],
   "resolve": {"scale": {"x": "independent", "y": "independent"}}}
 ], "spacing": 28, "resolve": {"scale": {"color": "independent"}, "legend": {"color": "independent"}}}
]
}
